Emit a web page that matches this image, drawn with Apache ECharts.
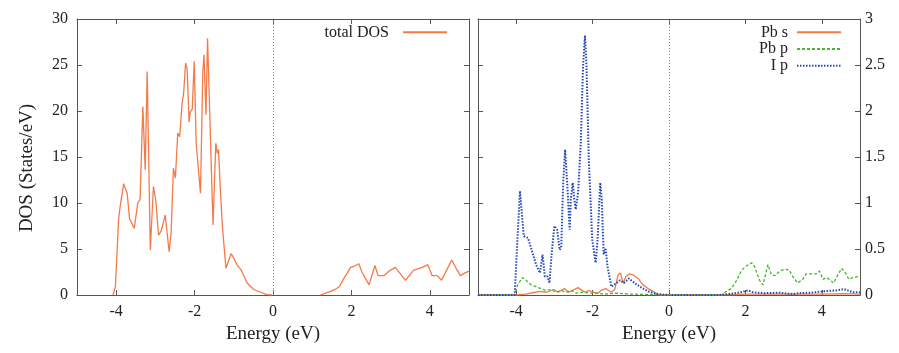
<!DOCTYPE html>
<html>
<head>
<meta charset="utf-8">
<script src="https://cdn.jsdelivr.net/npm/echarts@6/dist/echarts.min.js"></script>
<style>html,body{margin:0;padding:0;background:#fff}#c{width:899px;height:353px}</style>
</head>
<body>
<div id="c"></div>
<script>
// ---- data ----
var xTicks = [-4, -2, 0, 2, 4];

var totalE = [-4.08, -4.02, -3.94, -3.90, -3.81, -3.72, -3.66, -3.54, -3.45, -3.39, -3.32, -3.26, -3.21, -3.13, -3.05, -2.99, -2.92, -2.85, -2.80, -2.75, -2.71, -2.65, -2.60, -2.54, -2.49, -2.43, -2.38, -2.32, -2.28, -2.23, -2.19, -2.14, -2.11, -2.06, -2.01, -1.96, -1.92, -1.85, -1.79, -1.76, -1.71, -1.67, -1.53, -1.46, -1.42, -1.39, -1.34, -1.29, -1.20, -1.15, -1.07, -1.00, -0.92, -0.81, -0.66, -0.49, -0.32, -0.15, -0.02, 0.6, 1.21, 1.43, 1.56, 1.69, 1.81, 1.98, 2.06, 2.19, 2.27, 2.45, 2.60, 2.68, 2.83, 2.96, 3.12, 3.25, 3.38, 3.51, 3.59, 3.81, 3.95, 4.06, 4.19, 4.30, 4.43, 4.56, 4.67, 4.78, 4.90, 5.0];
var totalV = [0, 0.9, 8.15, 9.6, 12.1, 11.05, 8.3, 7.25, 10.0, 10.4, 20.5, 13.6, 24.3, 4.9, 11.8, 10.3, 6.5, 7.0, 6.8, 8.7, 8.5, 4.7, 6.7, 13.8, 12.7, 17.6, 17.2, 20.8, 21.9, 25.2, 24.6, 18.8, 19.9, 20.2, 25.4, 16.5, 16.7, 11.05, 24.3, 26.1, 19.6, 27.9, 7.6, 16.5, 15.4, 15.8, 11.2, 7.4, 2.9, 3.5, 4.5, 4.0, 3.3, 2.7, 1.3, 0.6, 0.3, 0.05, 0, null, 0, 0.35, 0.55, 0.9, 1.8, 3.0, 3.1, 3.4, 2.5, 1.1, 3.2, 2.1, 2.1, 2.6, 3.0, 2.3, 1.6, 2.3, 2.7, 3.0, 3.3, 2.1, 2.1, 1.6, 2.7, 3.8, 2.9, 2.1, 2.4, 2.6];

var pbsE = [-5, -4.02, -3.75, -3.5, -3.38, -3.2, -3.02, -2.9, -2.74, -2.63, -2.52, -2.38, -2.28, -2.18, -2.1, -1.99, -1.86, -1.78, -1.65, -1.52, -1.42, -1.33, -1.27, -1.2, -1.13, -1.04, -0.94, -0.81, -0.68, -0.55, -0.42, -0.25, 1.3, 2.0, 3.0, 4.0, 4.6, 5.0];
var pbsV = [0, 0, 0.01, 0.03, 0.04, 0.03, 0.06, 0.03, 0.07, 0.03, 0.05, 0.08, 0.05, 0.03, 0.05, 0.03, 0.02, 0.05, 0.07, 0.03, 0.06, 0.22, 0.24, 0.13, 0.2, 0.23, 0.22, 0.18, 0.11, 0.07, 0.04, 0, 0, 0.01, 0.01, 0.01, 0.015, 0.01];

var pbpE = [-5, -4.04, -3.96, -3.84, -3.74, -3.61, -3.48, -3.35, -3.22, -3.09, -2.96, -2.83, -2.7, -2.56, -2.43, -2.25, -2.08, -1.9, -1.7, -1.38, -1.0, -0.6, 0, 1.37, 1.5, 1.63, 1.76, 1.89, 2.0, 2.09, 2.17, 2.24, 2.37, 2.46, 2.59, 2.68, 2.77, 2.9, 3.02, 3.15, 3.24, 3.37, 3.5, 3.59, 3.72, 3.85, 3.94, 4.03, 4.13, 4.22, 4.31, 4.42, 4.52, 4.62, 4.71, 4.81, 4.96, 5.0];
var pbpV = [0, 0, 0.11, 0.19, 0.16, 0.11, 0.09, 0.07, 0.05, 0.06, 0.03, 0.05, 0.03, 0.05, 0.02, 0.03, 0.02, 0.02, 0.01, 0.02, 0.01, 0.005, 0, 0, 0.04, 0.07, 0.15, 0.26, 0.31, 0.33, 0.35, 0.31, 0.16, 0.11, 0.33, 0.22, 0.21, 0.26, 0.28, 0.27, 0.2, 0.13, 0.17, 0.23, 0.23, 0.23, 0.26, 0.17, 0.19, 0.16, 0.13, 0.22, 0.29, 0.24, 0.17, 0.19, 0.2, 0.2];

var ipE = [-5, -4.04, -3.96, -3.90, -3.84, -3.80, -3.69, -3.61, -3.48, -3.38, -3.31, -3.25, -3.18, -3.13, -3.07, -3.00, -2.93, -2.86, -2.82, -2.77, -2.72, -2.66, -2.60, -2.57, -2.52, -2.48, -2.44, -2.38, -2.31, -2.25, -2.20, -2.16, -2.10, -2.01, -1.92, -1.87, -1.80, -1.76, -1.71, -1.66, -1.61, -1.51, -1.38, -1.28, -1.18, -1.05, -0.90, -0.72, -0.55, -0.33, 0, 1.32, 1.76, 1.98, 2.07, 2.2, 2.5, 2.9, 3.24, 3.41, 3.68, 3.85, 4.03, 4.2, 4.37, 4.58, 4.68, 4.81, 5.0];
var ipV = [0, 0, 0.67, 1.13, 0.82, 0.64, 0.62, 0.51, 0.33, 0.24, 0.44, 0.2, 0.2, 0.13, 0.46, 0.75, 0.71, 0.49, 0.53, 1.22, 1.58, 1.18, 0.71, 1.04, 1.22, 1.04, 0.93, 1.11, 1.65, 2.49, 2.82, 2.49, 1.47, 0.6, 0.35, 0.6, 1.22, 1.04, 0.44, 0.51, 0.31, 0.09, 0.13, 0.16, 0.13, 0.18, 0.13, 0.08, 0.04, 0.01, 0, 0, 0.02, 0.04, 0.05, 0.03, 0.02, 0.025, 0.01, 0.02, 0.025, 0.03, 0.04, 0.045, 0.05, 0.065, 0.05, 0.03, 0.03];

// ---- chart ----
function zip(a, b) { return a.map(function (v, i) { return [v, b[i] === null ? '-' : b[i]]; }); }
var FONT = '"Liberation Serif", "DejaVu Serif", serif';
var AX = '#555';
var TXT = '#222';
var ORANGE = '#f47a48', GREEN = '#45b82c', BLUE = '#2548b8';

function xAx(grid, pos, labels) {
  return {
    gridIndex: grid, type: 'value', min: -5, max: 5, position: pos,
    axisLine: { onZero: false, lineStyle: { color: AX, width: 1 } },
    axisTick: { inside: true, length: 5, customValues: xTicks, lineStyle: { color: AX } },
    axisLabel: { show: labels, customValues: xTicks, color: TXT, fontFamily: FONT, fontSize: 16, margin: 9 },
    splitLine: { show: false },
    name: labels ? 'Energy (eV)' : '', nameLocation: 'middle', nameGap: 27,
    nameTextStyle: { color: TXT, fontFamily: FONT, fontSize: 19 }
  };
}
function yAx(grid, pos, max, interval, labels, name) {
  return {
    gridIndex: grid, type: 'value', min: 0, max: max, interval: interval, position: pos,
    axisLine: { onZero: false, lineStyle: { color: AX, width: 1 } },
    axisTick: { inside: true, length: 5, lineStyle: { color: AX } },
    axisLabel: { show: labels, color: TXT, fontFamily: FONT, fontSize: 16, margin: pos === 'left' ? 9 : 5 },
    splitLine: { show: false },
    name: name || '', nameLocation: 'middle', nameGap: 40,
    nameTextStyle: { color: TXT, fontFamily: FONT, fontSize: 19, padding: [0, 22, 0, 0] }
  };
}
var zeroLine = {
  silent: true, symbol: ['none', 'none'], label: { show: false },
  lineStyle: { type: [1, 2], color: '#888', width: 1 },
  data: [{ xAxis: 0 }]
};

var chart = echarts.init(document.getElementById('c'), null, { renderer: 'canvas' });
chart.setOption({
  animation: false,
  backgroundColor: '#fff',
  grid: [
    { left: 77, top: 19, width: 392, height: 276 },
    { left: 478, top: 19, width: 382, height: 276 }
  ],
  xAxis: [xAx(0, 'bottom', true), xAx(0, 'top', false), xAx(1, 'bottom', true), xAx(1, 'top', false)],
  yAxis: [
    yAx(0, 'left', 30, 5, true, 'DOS (States/eV)'),
    yAx(0, 'right', 30, 5, false),
    yAx(1, 'left', 3, 0.5, false),
    yAx(1, 'right', 3, 0.5, true)
  ],
  legend: [
    {
      data: ['total DOS'], right: 446, top: 19, align: 'right', orient: 'vertical',
      itemWidth: 44, itemHeight: 2, itemGap: 0,
      textStyle: { color: TXT, fontFamily: FONT, fontSize: 16, lineHeight: 16.7, padding: [0, 9, 0, 0] }
    },
    {
      data: ['Pb s', 'Pb p', 'I p'], right: 52, top: 19, align: 'right', orient: 'vertical',
      itemWidth: 44, itemHeight: 2, itemGap: 0,
      textStyle: { color: TXT, fontFamily: FONT, fontSize: 16, lineHeight: 16.7, padding: [0, 4, 0, 0] }
    }
  ],
  series: [
    {
      name: 'total DOS', type: 'line', xAxisIndex: 0, yAxisIndex: 0, symbol: 'none', connectNulls: false,
      data: zip(totalE, totalV), lineStyle: { color: ORANGE, width: 1.3 }, itemStyle: { color: ORANGE },
      markLine: zeroLine
    },
    {
      name: 'Pb s', type: 'line', xAxisIndex: 2, yAxisIndex: 3, symbol: 'none',
      data: zip(pbsE, pbsV), lineStyle: { color: ORANGE, width: 1.3 }, itemStyle: { color: ORANGE },
      markLine: zeroLine
    },
    {
      name: 'Pb p', type: 'line', xAxisIndex: 2, yAxisIndex: 3, symbol: 'none',
      data: zip(pbpE, pbpV), lineStyle: { color: GREEN, width: 1.3, type: [3, 2] }, itemStyle: { color: GREEN }
    },
    {
      name: 'I p', type: 'line', xAxisIndex: 2, yAxisIndex: 3, symbol: 'none',
      data: zip(ipE, ipV), lineStyle: { color: BLUE, width: 2, type: [1.5, 1.5] }, itemStyle: { color: BLUE }
    }
  ]
});
</script>
</body>
</html>
